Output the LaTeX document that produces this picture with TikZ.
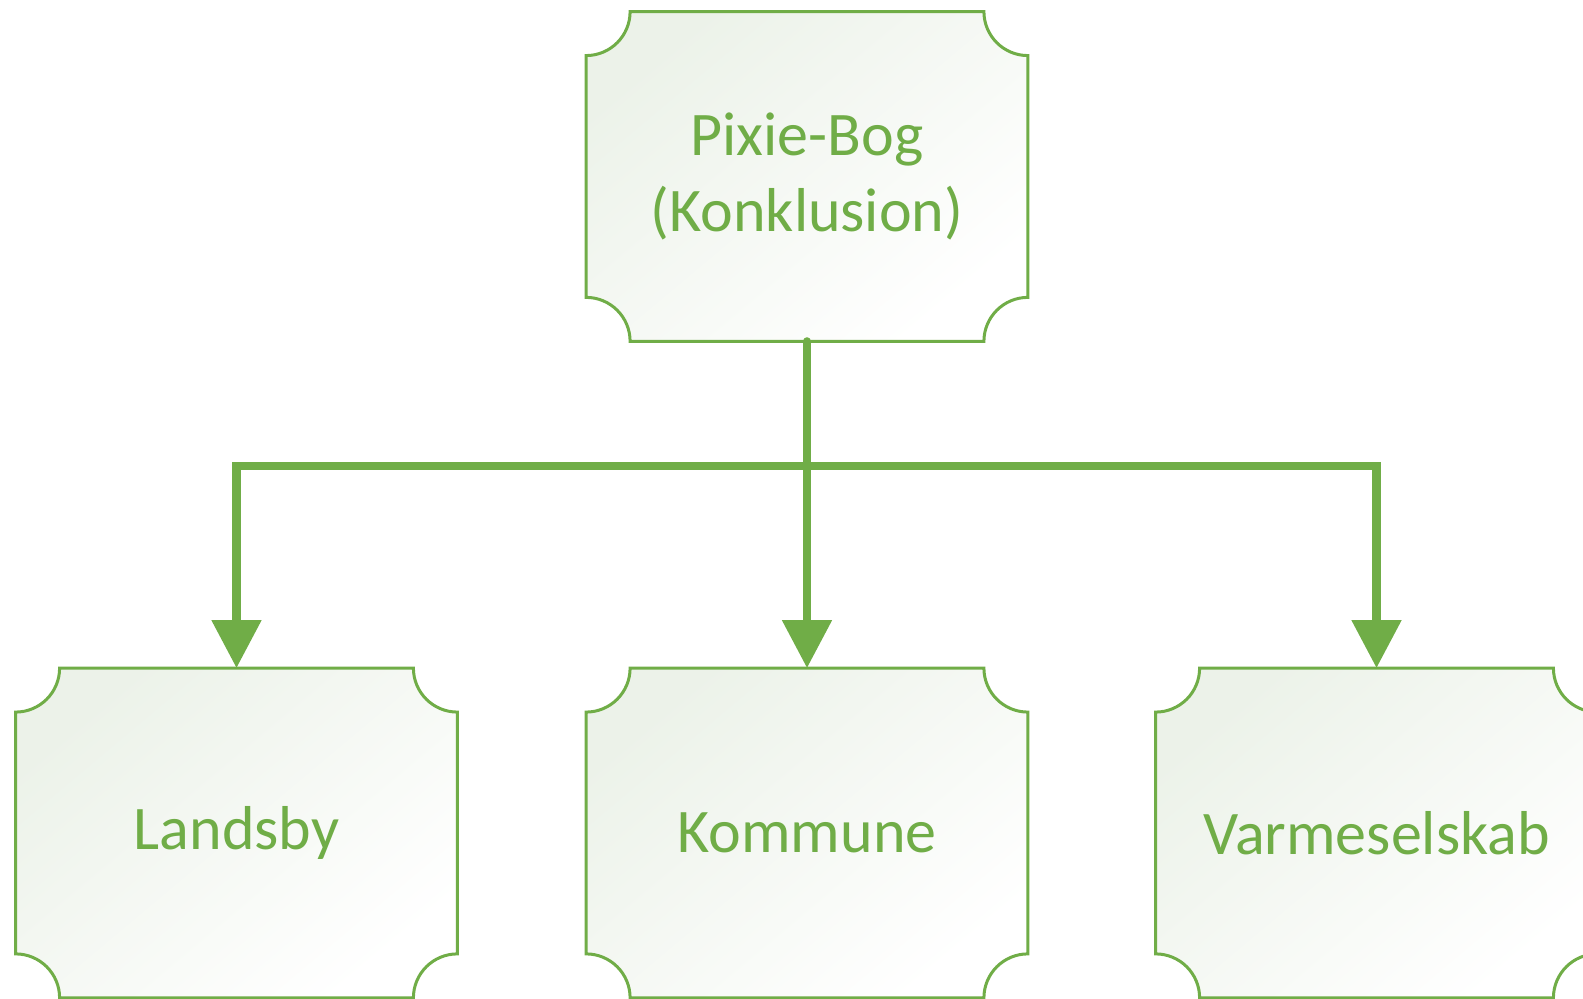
\documentclass[tikz,border=0pt]{standalone}
\usepackage{fontspec}
\setmainfont{Carlito}
\usetikzlibrary{calc, positioning, arrows.meta, backgrounds}
\definecolor{leaf}{RGB}{112,173,71}
\definecolor{mist}{RGB}{236,242,233}

\tikzset{
  card/.style={minimum width=220.5pt, minimum height=164.5pt, inner sep=0pt,
    text=leaf, font=\fontsize{31}{37.6}\selectfont, align=center},
  cardedge/.style={draw=leaf, line width=1.5pt, top color=mist, bottom color=white, shading angle=40},
  link/.style={draw=leaf, line width=4.2pt, -{Triangle[width=24pt,length=24pt]}},
}

% notched card outline around a node
\newcommand{\cardoutline}[1]{%
  \path[cardedge] ($(#1.north west)+(22pt,0)$) -- ($(#1.north east)+(-22pt,0)$)
    arc[start angle=180, end angle=270, radius=22pt]
    -- ($(#1.south east)+(0,22pt)$)
    arc[start angle=90, end angle=180, radius=22pt]
    -- ($(#1.south west)+(22pt,0)$)
    arc[start angle=0, end angle=90, radius=22pt]
    -- ($(#1.north west)+(0,-22pt)$)
    arc[start angle=270, end angle=360, radius=22pt]
    -- cycle;}

\begin{document}
\begin{tikzpicture}[x=0.5pt, y=0.5pt]
  \useasboundingbox (0,0) rectangle (1583,999);

  % Cards
  \node[card] (top) at (807,822.5) {Pixie-Bog\\(Konklusion)};
  \node[card] (lands) at (236.5,166) {Landsby};
  \node[card] (komm) at (807,166) {Kommune};
  \node[card] (varme) at (1376.5,166) {Varmeselskab};

  \begin{scope}[on background layer]
    \foreach \n in {top,lands,komm,varme} {\cardoutline{\n}}
  \end{scope}

  % Connectors
  \coordinate (bar) at ($(top.south)!0.381!(komm.north)$);
  \draw[link, line cap=round] (top.south) -- (komm.north);
  \draw[link] (bar) -| (lands.north);
  \draw[link] (bar) -| (varme.north);
\end{tikzpicture}
\end{document}
